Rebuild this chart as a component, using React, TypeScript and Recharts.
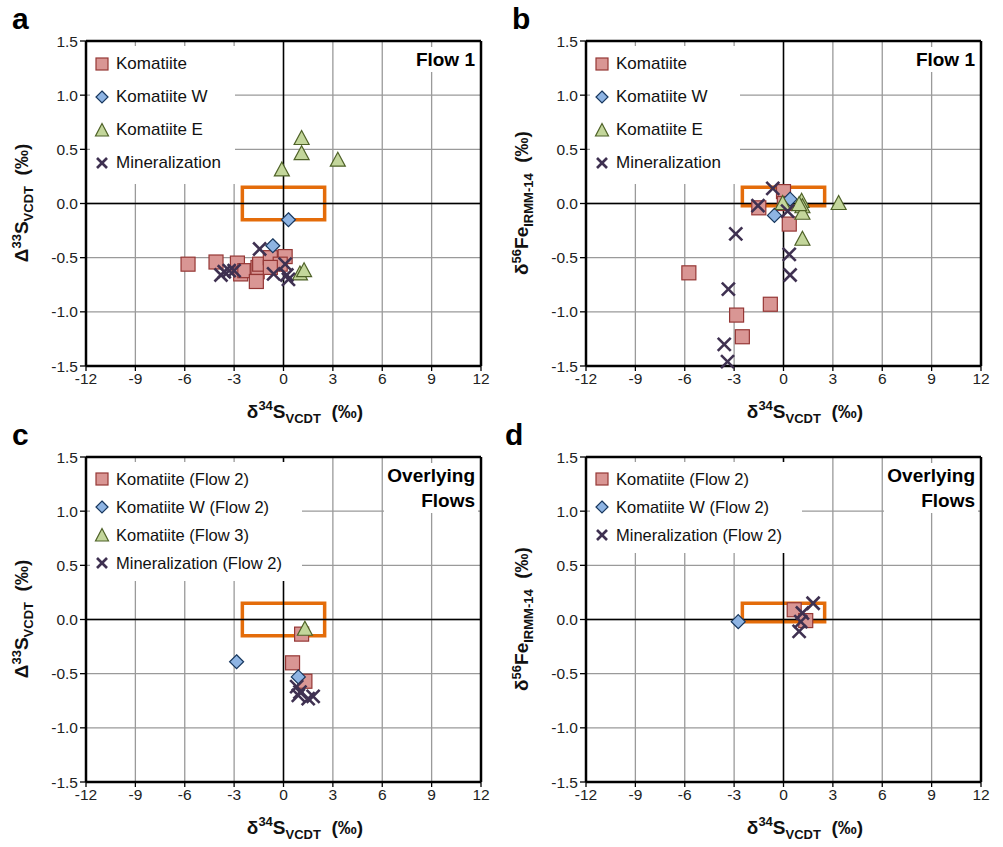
import React from 'react';
import { ScatterChart, Scatter, XAxis, YAxis, CartesianGrid, ReferenceLine, ReferenceArea } from 'recharts';

type Pt = { x: number; y: number };

const X_TICKS = [-12, -9, -6, -3, 0, 3, 6, 9, 12];
const Y_TICKS = [-1.5, -1, -0.5, 0, 0.5, 1, 1.5];

// panel a: Δ33S vs δ34S, Flow 1
const aKomatiite: Pt[] = [
  { x: -5.8, y: -0.56 }, { x: -4.1, y: -0.54 }, { x: -2.8, y: -0.55 }, { x: -2.6, y: -0.65 },
  { x: -2.35, y: -0.62 }, { x: -1.6, y: -0.63 }, { x: -1.55, y: -0.59 }, { x: -1.65, y: -0.72 },
  { x: -1.45, y: -0.56 }, { x: -0.8, y: -0.5 }, { x: 0.1, y: -0.49 }, { x: -0.2, y: -0.56 }, { x: -0.8, y: -0.59 },
];
const aKomW: Pt[] = [{ x: 0.3, y: -0.15 }, { x: -0.65, y: -0.39 }];
const aKomE: Pt[] = [
  { x: 1.1, y: 0.6 }, { x: 1.1, y: 0.46 }, { x: 3.3, y: 0.4 }, { x: -0.1, y: 0.31 },
  { x: 1.0, y: -0.65 }, { x: 1.25, y: -0.62 },
];
const aMin: Pt[] = [
  { x: -1.45, y: -0.42 }, { x: -3.6, y: -0.63 }, { x: -3.3, y: -0.62 }, { x: -3.8, y: -0.66 },
  { x: -3.0, y: -0.62 }, { x: -0.6, y: -0.65 }, { x: 0.1, y: -0.56 }, { x: 0.2, y: -0.66 }, { x: 0.3, y: -0.7 },
];

// panel b: δ56Fe vs δ34S, Flow 1
const bKomatiite: Pt[] = [
  { x: -5.75, y: -0.64 }, { x: -0.8, y: -0.93 }, { x: -2.85, y: -1.03 }, { x: -2.5, y: -1.23 },
  { x: 0, y: 0.11 }, { x: -1.5, y: -0.04 }, { x: 0.35, y: -0.19 }, { x: 0.05, y: 0.0 },
];
const bKomW: Pt[] = [{ x: 0.4, y: 0.04 }, { x: -0.55, y: -0.11 }];
const bKomE: Pt[] = [
  { x: -0.05, y: 0.0 }, { x: 1.1, y: 0.02 }, { x: 1.15, y: -0.03 }, { x: 1.15, y: -0.09 },
  { x: 1.15, y: -0.33 }, { x: 3.35, y: 0.0 }, { x: 0.95, y: -0.01 },
];
const bMin: Pt[] = [
  { x: -0.65, y: 0.14 }, { x: -1.55, y: -0.02 }, { x: 0.25, y: -0.07 }, { x: -2.9, y: -0.28 },
  { x: 0.35, y: -0.47 }, { x: 0.4, y: -0.66 }, { x: -3.35, y: -0.79 }, { x: -3.6, y: -1.3 }, { x: -3.4, y: -1.46 },
];

// panel c: Δ33S vs δ34S, overlying flows
const cKom2: Pt[] = [{ x: 1.1, y: -0.135 }, { x: 0.55, y: -0.4 }, { x: 1.3, y: -0.57 }];
const cKomW2: Pt[] = [{ x: -2.85, y: -0.39 }, { x: 0.9, y: -0.53 }];
const cKom3: Pt[] = [{ x: 1.3, y: -0.09 }];
const cMin2: Pt[] = [
  { x: 0.8, y: -0.62 }, { x: 1.0, y: -0.67 }, { x: 1.5, y: -0.73 }, { x: 1.8, y: -0.71 }, { x: 0.9, y: -0.7 },
];

// panel d: δ56Fe vs δ34S, overlying flows
const dKom2: Pt[] = [{ x: 0.65, y: 0.09 }, { x: 1.35, y: -0.01 }];
const dKomW2: Pt[] = [{ x: -2.75, y: -0.02 }];
const dMin2: Pt[] = [{ x: 1.8, y: 0.15 }, { x: 1.15, y: 0.06 }, { x: 1.05, y: -0.02 }, { x: 0.95, y: -0.11 }];

const FONT = '"Liberation Sans", Arial, sans-serif';
const ORANGE = '#e46c0a';

type Kind = 'square' | 'diamond' | 'triangle' | 'cross';

const Marker = ({ kind, cx, cy }: { kind: Kind; cx: number; cy: number }) => {
  if (kind === 'square')
    return <rect x={cx - 7} y={cy - 7} width={14} height={14} fill="#d99694" stroke="#953735" strokeWidth={1.2} />;
  if (kind === 'diamond')
    return (
      <polygon
        points={`${cx},${cy - 7} ${cx + 7},${cy} ${cx},${cy + 7} ${cx - 7},${cy}`}
        fill="#8eb4e3" stroke="#17375e" strokeWidth={1.2}
      />
    );
  if (kind === 'triangle')
    return (
      <polygon
        points={`${cx},${cy - 8} ${cx + 7.5},${cy + 6} ${cx - 7.5},${cy + 6}`}
        fill="#c3d69b" stroke="#4f6228" strokeWidth={1.2}
      />
    );
  return (
    <g stroke="#3f3151" strokeWidth={2.6}>
      <line x1={cx - 6.5} y1={cy - 6.5} x2={cx + 6.5} y2={cy + 6.5} />
      <line x1={cx - 6.5} y1={cy + 6.5} x2={cx + 6.5} y2={cy - 6.5} />
    </g>
  );
};

const LegendIcon = ({ kind }: { kind: Kind }) => {
  const small: Record<Kind, React.ReactNode> = {
    square: <rect x={2} y={2} width={12} height={12} fill="#d99694" stroke="#953735" strokeWidth={1.2} />,
    diamond: <polygon points="8,2 14,8 8,14 2,8" fill="#8eb4e3" stroke="#17375e" strokeWidth={1.2} />,
    triangle: <polygon points="8,1.5 14.5,14 1.5,14" fill="#c3d69b" stroke="#4f6228" strokeWidth={1.2} />,
    cross: (
      <g stroke="#3f3151" strokeWidth={2.6}>
        <line x1={3} y1={3} x2={13} y2={13} />
        <line x1={3} y1={13} x2={13} y2={3} />
      </g>
    ),
  };
  return (
    <svg width={16} height={16} style={{ display: 'block' }}>
      {small[kind]}
    </svg>
  );
};

type Series = { name: string; data: Pt[]; kind: Kind };

type PanelProps = {
  left: number;
  top: number;
  letter: string;
  letterLeft: number;
  yTitle: React.ReactNode;
  series: Series[];
  boxY: [number, number];
  legendSize: number;
  legendGap: number;
  legendFirst: number;
  legendWidth: number;
  note: string[];
};

const Panel = (p: PanelProps) => {
  const rows = p.series.length;
  return (
    <div style={{ position: 'absolute', left: p.left, top: p.top, width: 500, height: 423 }}>
      <ScatterChart width={500} height={423} margin={{ top: 41, right: 19, bottom: 32, left: 40 }}>
        <CartesianGrid stroke="#9a9a9a" strokeWidth={1.3} />
        <XAxis
          type="number"
          dataKey="x"
          domain={[-12, 12]}
          ticks={X_TICKS}
          height={25}
          axisLine={{ stroke: '#000', strokeWidth: 2.5 }}
          tickLine={{ stroke: '#000', strokeWidth: 1.3 }}
          tickSize={5}
          tick={{ fill: '#222', fontSize: 15.5, fontFamily: FONT }}
        />
        <YAxis
          type="number"
          dataKey="y"
          domain={[-1.5, 1.5]}
          ticks={Y_TICKS}
          width={46}
          axisLine={{ stroke: '#000', strokeWidth: 2.5 }}
          tickLine={{ stroke: '#000', strokeWidth: 1.3 }}
          tickSize={6}
          tickFormatter={(v: number) => v.toFixed(1)}
          tick={{ fill: '#222', fontSize: 15.5, fontFamily: FONT }}
        />
        <ReferenceLine x={0} stroke="#000" strokeWidth={1.5} />
        <ReferenceLine y={0} stroke="#000" strokeWidth={1.5} />
        <ReferenceLine y={1.5} stroke="#000" strokeWidth={2.5} />
        <ReferenceLine x={12} stroke="#000" strokeWidth={2.5} />
        <ReferenceArea x1={-2.5} x2={2.5} y1={p.boxY[0]} y2={p.boxY[1]} fill="none" fillOpacity={0} stroke={ORANGE} strokeWidth={3.5} />
        {p.series.map((s) => (
          <Scatter
            key={s.name}
            name={s.name}
            data={s.data}
            isAnimationActive={false}
            shape={(sp: any) => <Marker kind={s.kind} cx={sp.cx} cy={sp.cy} />}
          />
        ))}
      </ScatterChart>

      {/* legend box covers the grid like the spreadsheet original */}
      <div
        style={{
          position: 'absolute', left: 90, top: 46, width: p.legendWidth,
          height: p.legendFirst - 46 + (rows - 1) * p.legendGap + p.legendGap / 2 + 4,
          background: '#fff',
        }}
      />
      {p.series.map((s, i) => (
        <div
          key={s.name}
          style={{
            position: 'absolute', left: 94, top: p.legendFirst + i * p.legendGap - 10,
            height: 20, display: 'flex', alignItems: 'center', whiteSpace: 'nowrap',
            fontFamily: FONT, fontSize: p.legendSize, color: '#111',
          }}
        >
          <LegendIcon kind={s.kind} />
          <span style={{ marginLeft: 6 }}>{s.name}</span>
        </div>
      ))}

      <div
        style={{
          position: 'absolute', right: 22, top: 47, padding: '0 3px', background: '#fff', textAlign: 'right',
          fontFamily: FONT, fontWeight: 'bold', fontSize: 19, lineHeight: '25px', color: '#000',
        }}
      >
        {p.note.map((l) => (
          <div key={l}>{l}</div>
        ))}
      </div>

      <div style={{ position: 'absolute', left: p.letterLeft, top: 2, fontFamily: FONT, fontWeight: 'bold', fontSize: 30, color: '#000' }}>
        {p.letter}
      </div>

      <div
        style={{
          position: 'absolute', left: 23, top: 203, transform: 'translate(-50%, -50%) rotate(-90deg)',
          whiteSpace: 'nowrap', fontFamily: FONT, fontWeight: 'bold', fontSize: 19, color: '#111',
        }}
      >
        {p.yTitle}
      </div>

      <div
        style={{
          position: 'absolute', left: 305, top: 412, transform: 'translate(-50%, -50%)',
          whiteSpace: 'nowrap', fontFamily: FONT, fontWeight: 'bold', fontSize: 19, color: '#111',
        }}
      >
        δ<sup style={{ fontSize: 13 }}>34</sup>S<sub style={{ fontSize: 13 }}>VCDT</sub>&nbsp;&nbsp;(‰)
      </div>
    </div>
  );
};

const sTitle = (
  <span>
    Δ<sup style={{ fontSize: 13 }}>33</sup>S<sub style={{ fontSize: 13 }}>VCDT</sub>&nbsp;&nbsp;(‰)
  </span>
);
const feTitle = (
  <span>
    δ<sup style={{ fontSize: 13 }}>56</sup>Fe<sub style={{ fontSize: 13 }}>IRMM-14</sub>&nbsp;&nbsp;(‰)
  </span>
);

export default function App() {
  return (
    <div style={{ position: 'absolute', left: 0, top: 0, width: 1003, height: 847, background: '#fff', overflow: 'hidden' }}>
      <Panel
        left={0} top={0} letter="a" letterLeft={12} yTitle={sTitle} boxY={[-0.15, 0.15]}
        legendSize={17} legendGap={33} legendFirst={64} legendWidth={145} note={['Flow 1']}
        series={[
          { name: 'Komatiite', data: aKomatiite, kind: 'square' },
          { name: 'Komatiite W', data: aKomW, kind: 'diamond' },
          { name: 'Komatiite E', data: aKomE, kind: 'triangle' },
          { name: 'Mineralization', data: aMin, kind: 'cross' },
        ]}
      />
      <Panel
        left={500} top={0} letter="b" letterLeft={12} yTitle={feTitle} boxY={[-0.02, 0.15]}
        legendSize={17} legendGap={33} legendFirst={64} legendWidth={150} note={['Flow 1']}
        series={[
          { name: 'Komatiite', data: bKomatiite, kind: 'square' },
          { name: 'Komatiite W', data: bKomW, kind: 'diamond' },
          { name: 'Komatiite E', data: bKomE, kind: 'triangle' },
          { name: 'Mineralization', data: bMin, kind: 'cross' },
        ]}
      />
      <Panel
        left={0} top={416} letter="c" letterLeft={12} yTitle={sTitle} boxY={[-0.15, 0.15]}
        legendSize={16.5} legendGap={28} legendFirst={63} legendWidth={212} note={['Overlying', 'Flows']}
        series={[
          { name: 'Komatiite (Flow 2)', data: cKom2, kind: 'square' },
          { name: 'Komatiite W (Flow 2)', data: cKomW2, kind: 'diamond' },
          { name: 'Komatiite (Flow 3)', data: cKom3, kind: 'triangle' },
          { name: 'Mineralization (Flow 2)', data: cMin2, kind: 'cross' },
        ]}
      />
      <Panel
        left={500} top={416} letter="d" letterLeft={5} yTitle={feTitle} boxY={[-0.02, 0.15]}
        legendSize={16.5} legendGap={28} legendFirst={63} legendWidth={212} note={['Overlying', 'Flows']}
        series={[
          { name: 'Komatiite (Flow 2)', data: dKom2, kind: 'square' },
          { name: 'Komatiite W (Flow 2)', data: dKomW2, kind: 'diamond' },
          { name: 'Mineralization (Flow 2)', data: dMin2, kind: 'cross' },
        ]}
      />
    </div>
  );
}
